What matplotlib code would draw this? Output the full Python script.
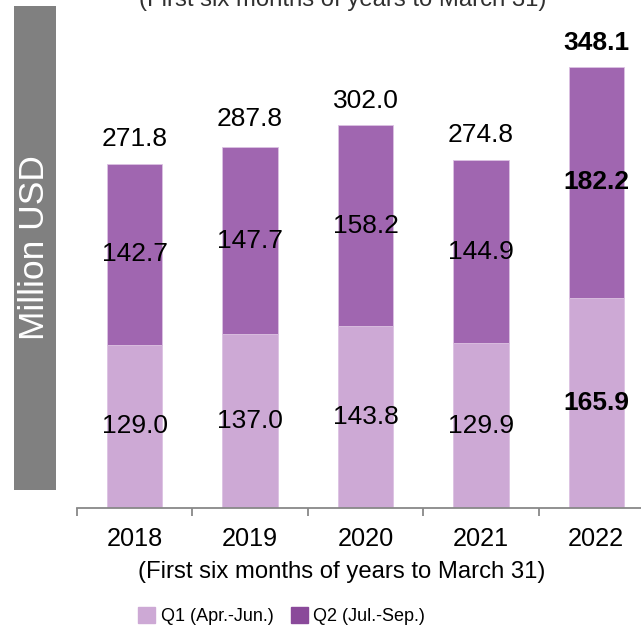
import matplotlib.pyplot as plt
from matplotlib.patches import Rectangle, Patch

plt.rcParams['font.family'] = ['Liberation Sans', 'DejaVu Sans']

# Half-year revenue, million USD
years = ['2018', '2019', '2020', '2021', '2022']
q1 = [129.0, 137.0, 143.8, 129.9, 165.9]
q2 = [142.7, 147.7, 158.2, 144.9, 182.2]
totals = [271.8, 287.8, 302.0, 274.8, 348.1]

c_q1 = '#CDA9D5'
c_q2 = '#A066B0'
c_q2_legend = '#8A4A9A'
subtitle = '(First six months of years to March 31)'

W, H = 641, 627
fig = plt.figure(figsize=(W / 100, H / 100), dpi=100)
ax = fig.add_axes([77 / W, (H - 508) / H, 577 / W, 508 / H])

x = range(len(years))
ax.bar(x, q1, width=0.48, color=c_q1, edgecolor='#DCC2E2', linewidth=0.6)
ax.bar(x, q2, width=0.48, bottom=q1, color=c_q2, edgecolor='#DCC2E2', linewidth=0.6)

for i in x:
    bold = 'bold' if i == len(years) - 1 else 'normal'
    ax.text(i, q1[i] / 2, f'{q1[i]:.1f}', ha='center', va='center',
            fontsize=19, fontweight=bold, color='black')
    ax.text(i, q1[i] + q2[i] / 2, f'{q2[i]:.1f}', ha='center', va='center',
            fontsize=19, fontweight=bold, color='black')
    ax.annotate(f'{totals[i]:.1f}', (i, totals[i]), xytext=(0, 17.5),
                textcoords='offset pixels', ha='center', va='baseline',
                fontsize=19, fontweight=bold, color='black')

ax.set_xlim(-0.5, 4.5)
ax.set_ylim(0, 401)
ax.set_xticks(list(x))
ax.set_xticklabels(years, fontsize=18.2)
ax.set_xticks([i - 0.5 for i in range(len(years) + 1)], minor=True)
ax.tick_params(axis='x', which='major', length=0, pad=14)
ax.tick_params(axis='x', which='minor', length=6, width=1.3, color='#888888')
ax.set_yticks([])
for s in ['top', 'right', 'left']:
    ax.spines[s].set_visible(False)
ax.spines['bottom'].set_color('#888888')
ax.spines['bottom'].set_linewidth(1.3)

# grey y-axis title box
fig.patches.append(Rectangle((14 / W, (H - 490) / H), 42 / W, 484 / H,
                             transform=fig.transFigure, facecolor='#808080',
                             edgecolor='none'))
fig.text(35 / W, 1 - 248 / H, 'Million USD', rotation=90, ha='center',
         va='center', fontsize=25.5, color='white')

fig.text(342 / W, 1 - 578 / H, subtitle, ha='center', va='baseline', fontsize=17.2)
fig.text(343 / W, 1 - 6 / H, subtitle, ha='center', va='baseline', fontsize=17.2,
         color='#303030')

handles = [Patch(color=c_q1, label='Q1 (Apr.-Jun.)'),
           Patch(color=c_q2_legend, label='Q2 (Jul.-Sep.)')]
fig.legend(handles=handles, loc='center', bbox_to_anchor=(281.5 / W, 1 - 616 / H),
           ncol=2, frameon=False, fontsize=13, handlelength=0.95,
           handleheight=0.95, handletextpad=0.3, columnspacing=0.95,
           borderpad=0, borderaxespad=0)

fig.savefig('out.png', dpi=100)
